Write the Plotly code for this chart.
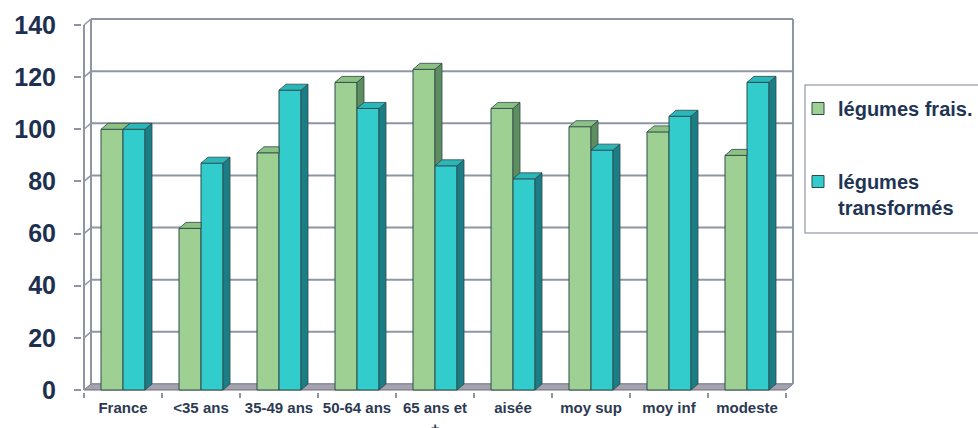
import plotly.graph_objects as go

# ---- data ----
categories = ["France", "<35 ans", "35-49 ans", "50-64 ans", "65 ans et<br>+",
              "aisée", "moy sup", "moy inf", "modeste"]
legumes_frais = [100, 62, 91, 118, 123, 108, 101, 99, 90]
legumes_transformes = [100, 87, 115, 108, 86, 81, 92, 105, 118]
y_ticks = [0, 20, 40, 60, 80, 100, 120, 140]
name_frais = "<b>légumes frais.</b>"
name_transf = "<b>légumes<br>transformés</b>"

# ---- geometry / style ----
W, H = 978, 428
UX = 78.0                 # px per category
UY = 365.0 / 140.0        # px per value unit
DX = 7 / UX               # 3D depth (x, data units)
DY = 6 / UY               # 3D depth (y, data units)
PX = 2 / UX
PY = 2 / UY
BW = 22 / UX              # bar width
YMAX = 140

x_range = [-0.5 - PX, len(categories) - 0.5 + DX + PX]
y_range = [-PY, YMAX + DY + PY]
plot_w = (x_range[1] - x_range[0]) * UX
plot_h = (y_range[1] - y_range[0]) * UY
ML = 84 - PX * UX
MB = 428 - (390 + PY * UY)
MT = H - MB - plot_h
MR = W - ML - plot_w

GREEN = "#9DD092"
GREEN_TOP = "#8DC083"
GREEN_SIDE = "#5E8D5F"
CYAN = "#33CCCC"
CYAN_TOP = "#2BB6B9"
CYAN_SIDE = "#1B7E86"
EDGE = "#2E4A4A"
GRID = "#8E96A4"
NAVY = "#1D3050"

xs = list(range(len(categories)))

fig = go.Figure()
fig.add_trace(go.Bar(x=xs, y=legumes_frais, width=BW, offset=-BW, name=name_frais,
                     legendgroup="a",
                     marker=dict(color=GREEN, line=dict(color=EDGE, width=1))))
fig.add_trace(go.Bar(x=xs, y=legumes_transformes, width=BW, offset=0, name=name_transf,
                     legendgroup="b",
                     marker=dict(color=CYAN, line=dict(color=EDGE, width=1))))


def poly(px, py, color):
    fig.add_trace(go.Scatter(x=px + [px[0]], y=py + [py[0]], mode="lines", fill="toself",
                             fillcolor=color, line=dict(color=EDGE, width=0.8),
                             showlegend=False, hoverinfo="skip"))


# 3D faces of the green bars
for i, (vg, vc) in enumerate(zip(legumes_frais, legumes_transformes)):
    x0 = xs[i]
    if vg > vc:
        poly([x0, x0 + DX, x0 + DX, x0], [vc, vc + DY, vg + DY, vg], GREEN_SIDE)
    if vc > vg:
        poly([x0 - BW, x0, x0, x0 - BW + DX], [vg, vg, vg + DY, vg + DY], GREEN_TOP)
    else:
        poly([x0 - BW, x0, x0 + DX, x0 - BW + DX], [vg, vg, vg + DY, vg + DY], GREEN_TOP)
# 3D faces of the cyan bars
for i, vc in enumerate(legumes_transformes):
    x0 = xs[i]
    poly([x0 + BW, x0 + BW + DX, x0 + BW + DX, x0 + BW], [0, DY, vc + DY, vc], CYAN_SIDE)
    poly([x0, x0 + BW, x0 + BW + DX, x0 + DX], [vc, vc, vc + DY, vc + DY], CYAN_TOP)

# ---- walls / floor / gridlines ----
xl, xr = -0.5, len(categories) - 0.5
shapes = []
shapes.append(dict(type="path", xref="x", yref="y", layer="below",
                   path=f"M {xl},0 L {xr},0 L {xr+DX},{DY} L {xl+DX},{DY} Z",
                   fillcolor="#A6A2AE", line=dict(color="#6E6E7E", width=1)))
for v in y_ticks:
    shapes.append(dict(type="line", xref="x", yref="y", layer="below",
                       x0=xl + DX, x1=xr + DX, y0=v + DY, y1=v + DY,
                       line=dict(color=GRID, width=2)))
    if v > 0:
        shapes.append(dict(type="line", xref="x", yref="y", layer="below",
                           x0=xl, x1=xl + DX, y0=v, y1=v + DY,
                           line=dict(color=GRID, width=1.5)))
for xx in (xl + DX, xr + DX):
    shapes.append(dict(type="line", xref="x", yref="y", layer="below",
                       x0=xx, x1=xx, y0=DY, y1=YMAX + DY,
                       line=dict(color=GRID, width=2)))
shapes.append(dict(type="line", xref="x", yref="y", layer="below",
                   x0=xl, x1=xl, y0=0, y1=YMAX, line=dict(color=GRID, width=2)))


def pxp(px):
    return (px - ML) / plot_w


def pyp(py):
    return (H - MB - py) / plot_h


# legend frame
shapes.append(dict(type="rect", xref="paper", yref="paper",
                   x0=pxp(805), x1=pxp(995), y0=pyp(233), y1=pyp(85),
                   line=dict(color="#A8ACB6", width=1.5), fillcolor="rgba(0,0,0,0)"))

fig.update_layout(
    width=W, height=H,
    margin=dict(l=ML, r=MR, t=MT, b=MB, pad=0, autoexpand=False),
    paper_bgcolor="white", plot_bgcolor="white",
    barmode="overlay",
    showlegend=True,
    shapes=shapes,
    font=dict(family="Liberation Sans", color=NAVY),
    legend=dict(x=pxp(798), y=pyp(89), xanchor="left", yanchor="top",
                bgcolor="rgba(0,0,0,0)", borderwidth=0,
                font=dict(family="Liberation Sans", size=20, color="#1F3556"),
                tracegroupgap=44, traceorder="grouped", valign="top",
                itemclick=False, itemdoubleclick=False),
    xaxis=dict(range=x_range, tickmode="array", tickvals=xs, ticktext=categories,
               ticks="", showgrid=False, zeroline=False, showline=False,
               automargin=False, ticklabelstandoff=5,
               tickfont=dict(family="Liberation Sans", size=15, color="#2C3A52", weight="bold"),
               minor=dict(tickmode="array", tickvals=[k - 0.5 for k in range(len(categories) + 1)],
                          ticks="outside", ticklen=5, tickcolor=GRID, tickwidth=1.5, showgrid=False)),
    yaxis=dict(range=y_range, tickmode="array", tickvals=y_ticks,
               ticks="outside", ticklen=7, tickcolor=GRID, tickwidth=1.5,
               showgrid=False, zeroline=False, showline=False,
               automargin=False, ticklabelstandoff=13,
               tickfont=dict(family="Liberation Sans", size=25, color=NAVY, weight="bold")),
)

fig.write_html("out.html")
